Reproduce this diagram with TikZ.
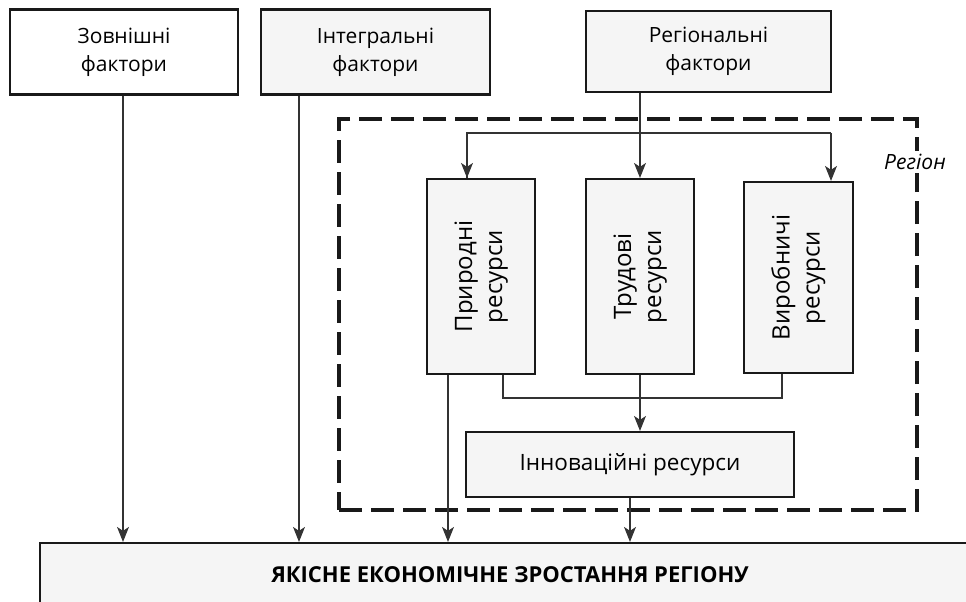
\documentclass[tikz,border=0pt]{standalone}
\usepackage{fontspec}
\setmainfont{Open Sans}
\usetikzlibrary{arrows.meta,positioning,calc,fit}

\begin{document}
\begin{tikzpicture}[x=1pt,y=-1pt,
		arrow/.style={line width=1.1pt,draw=black!80,-{Stealth[length=15pt,width=12pt,inset=4pt]}},
		link/.style={line width=1.1pt,draw=black!80}]
		\tikzset{box/.style={draw=black!90,line width=2.2pt,rectangle,inner sep=0pt,align=center,fill=black!4,font=\fontsize{21}{28}\selectfont}}
		\tikzset{vbox/.style={box,minimum width=108pt,font=\fontsize{24}{30}\selectfont}}

		\useasboundingbox (0,0) rectangle (966,602);
		\clip (0,0) rectangle (966,602);

		% Factors
		\node[box, fill=white, minimum width=228pt, minimum height=85pt] (ext) at (124,52) {Зовнішні\\фактори};

		\node[box, minimum width=229pt, minimum height=85pt] (integ) at (375.5,52) {Інтегральні\\фактори};

		\node[box, minimum width=245pt, minimum height=81pt] (reg) at (708.5,51.5) {Регіональні\\фактори};

		% Region
		\node[fit={(339,119) (917,510)}, inner sep=0pt, draw=black!90, line width=3.5pt, dash pattern=on 23pt off 9pt] (region) {};

		\node[fill=white, inner sep=3pt, font=\fontsize{21}{24}\selectfont\itshape] (regname) at (915,162) {Регіон};

		% Resources
		\node[vbox, minimum height=195pt] (nat) at (481,276.5) {\rotatebox{90}{\begin{tabular}{@{}c@{}}Природні\\ресурси\end{tabular}}};

		\node[vbox, minimum height=195pt] (labour) at (640,276.5) {\rotatebox{90}{\begin{tabular}{@{}c@{}}Трудові\\ресурси\end{tabular}}};

		\node[vbox, minimum width=109pt, minimum height=191pt] (prod) at (798.5,277.5) {\rotatebox{90}{\begin{tabular}{@{}c@{}}Виробничі\\ресурси\end{tabular}}};

		\node[box, minimum width=328pt, minimum height=65pt, font=\fontsize{22.5}{28}\selectfont] (innov) at (630,464.5) {Інноваційні ресурси};

		% Result
		\node[box, minimum width=940pt, minimum height=64pt, font=\fontsize{22}{26}\selectfont\bfseries] (growth) at (510,575) {ЯКІСНЕ ЕКОНОМІЧНЕ ЗРОСТАННЯ РЕГІОНУ};

		% Arrows
		\draw [arrow] ([xshift=-1pt]ext.south) -- ([xshift=-1pt]ext.south |- growth.north);
		\draw [arrow] ([xshift=-76.5pt]integ.south) -- ([xshift=-76.5pt]integ.south |- growth.north);

		\draw [arrow] (labour.north |- reg.south) -- (labour.north);
		\draw [link] ([xshift=-14pt]nat.north) |- ([xshift=32.5pt]prod.north |- 0,133);
		\draw [arrow] ([xshift=-14pt]nat.north |- 0,133) -- ([xshift=-14pt]nat.north);
		\draw [arrow] ([xshift=32.5pt]prod.north |- 0,133) -- ([xshift=32.5pt]prod.north);

		\draw [arrow] ([xshift=-33pt]nat.south) -- ([xshift=-33pt]nat.south |- growth.north);
		\draw [link] ([xshift=22pt]nat.south) |- (labour.south |- 0,398) -| ([xshift=-16.5pt]prod.south);
		\draw [arrow] (labour.south) -- (labour.south |- innov.north);
		\draw [arrow] (innov.south) -- (innov.south |- growth.north);

	\end{tikzpicture}
\end{document}
